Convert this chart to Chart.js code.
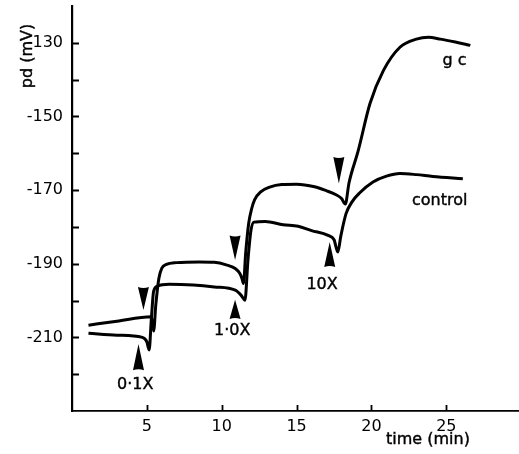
<!DOCTYPE html>
<html><head><meta charset="utf-8">
<script src="https://cdn.jsdelivr.net/npm/chart.js@4/dist/chart.umd.min.js"></script>
<style>html,body{margin:0;padding:0;background:#fff}canvas{display:block}</style>
</head><body>
<canvas id="c" width="519" height="454"></canvas>
<script>
// ---- data (time in min, pd in mV) ----
const gcTime = [1.1, 3.0, 5.3, 5.45, 5.6, 5.8, 6.0, 6.3, 7.0, 8.5, 9.5, 10.3, 10.9, 11.2, 11.35, 11.45, 11.6, 11.8, 12.0, 12.2, 12.6, 13.2, 14.0, 15.0, 16.2, 17.0, 17.6, 18.0, 18.25, 18.5, 19.1, 19.9, 20.8, 21.9, 23.0, 23.8, 24.6, 25.6, 26.6];
const gcPd = [-206.7, -205.6, -204.4, -208.3, -201, -194, -191.2, -190.2, -189.7, -189.5, -189.6, -190.3, -191.3, -192.6, -194, -195.4, -187, -179, -175, -172.6, -170.5, -169.2, -168.5, -168.4, -169.1, -170.2, -171.2, -172.3, -173.8, -168, -159.5, -146.5, -137.5, -131.2, -129, -128.5, -129, -129.8, -130.7];
const controlTime = [1.1, 3.0, 4.7, 5.0, 5.15, 5.3, 5.45, 5.7, 6.5, 8.1, 9.5, 10.9, 11.3, 11.55, 11.75, 11.95, 12.15, 12.9, 14.1, 15.1, 16.0, 17.1, 17.5, 17.75, 17.95, 18.3, 18.7, 19.2, 20.1, 21.0, 21.9, 23.0, 24.1, 26.1];
const controlPd = [-208.9, -209.4, -210, -211.2, -213.4, -205, -197.5, -196.1, -195.6, -195.8, -196.3, -197.2, -198.6, -199.9, -189, -181, -178.7, -178.5, -179.4, -179.8, -181, -182.3, -183.5, -186.8, -182.5, -176.4, -173.2, -170.8, -167.8, -166.2, -165.5, -165.8, -166.3, -166.9];

const xTicks = [5, 10, 15, 20, 25];
const yTicks = [-130, -150, -170, -190, -210];
const yMinorTicks = [-140, -160, -180, -200, -220];

// dose-addition arrowheads: tip and base positions (time, pd)
const doseLabels = ['0·1X', '1·0X', '10X'];
const downArrowTime = [4.77, 10.89, 17.82];
const downArrowTipPd = [-202.6, -189.0, -168.2];
const downArrowBasePd = [-196.3, -182.3, -161.0];
const upArrowTime = [4.44, 10.89, 17.21];
const upArrowTipPd = [-211.8, -199.8, -184.1];
const upArrowBasePd = [-218.9, -205.0, -190.9];
const doseLabelTime = [4.22, 10.7, 16.7];
const doseLabelPd = [-223.0, -208.2, -195.6];

const seriesNames = ['g c', 'control'];
const seriesLabelTime = [25.55, 24.55];
const seriesLabelPd = [-134.8, -172.8];

const xTitle = 'time (min)';
const yTitle = 'pd (mV)';

const FONT = '"DejaVu Sans", sans-serif';

function toPoints(xs, ys) { return xs.map((v, i) => ({x: v, y: ys[i]})); }

const overlay = {
  id: 'overlay',
  afterDatasetsDraw(chart) {
    const {ctx, scales: {x, y}, chartArea} = chart;
    ctx.save();
    ctx.strokeStyle = '#000';
    ctx.lineWidth = 1.8;
    ctx.beginPath();
    [...yTicks, ...yMinorTicks].forEach(v => {
      const py = Math.round(y.getPixelForValue(v)) + 0.5;
      ctx.moveTo(chartArea.left, py); ctx.lineTo(chartArea.left + 7, py);
    });
    xTicks.forEach(v => {
      const px = Math.round(x.getPixelForValue(v)) + 0.5;
      ctx.moveTo(px, chartArea.bottom); ctx.lineTo(px, chartArea.bottom - 6);
    });
    ctx.stroke();

    ctx.fillStyle = '#000';
    const W = 11;
    function tri(px, tipY, baseY) {
      const h = baseY - tipY;
      ctx.beginPath();
      ctx.moveTo(px, tipY);
      ctx.lineTo(px - W / 2, baseY);
      ctx.quadraticCurveTo(px, baseY - Math.sign(h) * 2, px + W / 2, baseY);
      ctx.closePath();
      ctx.fill();
    }
    downArrowTime.forEach((t, i) => tri(x.getPixelForValue(t), y.getPixelForValue(downArrowTipPd[i]), y.getPixelForValue(downArrowBasePd[i])));
    upArrowTime.forEach((t, i) => tri(x.getPixelForValue(t), y.getPixelForValue(upArrowTipPd[i]), y.getPixelForValue(upArrowBasePd[i])));

    ctx.font = '16px ' + FONT;
    ctx.textAlign = 'center';
    ctx.textBaseline = 'middle';
    ctx.lineWidth = 0.4;
    function txt(s, px, py) { ctx.fillText(s, px, py); ctx.strokeText(s, px, py); }
    doseLabels.forEach((s, i) => txt(s, x.getPixelForValue(doseLabelTime[i]), y.getPixelForValue(doseLabelPd[i])));
    seriesNames.forEach((s, i) => txt(s, x.getPixelForValue(seriesLabelTime[i]), y.getPixelForValue(seriesLabelPd[i])));

    txt(xTitle, 428, 440);
    ctx.translate(28, 56);
    ctx.rotate(-Math.PI / 2);
    txt(yTitle, 0, 0);
    ctx.restore();
  }
};

const lineStyle = {
  showLine: true, pointRadius: 0, borderColor: '#000', borderWidth: 3,
  cubicInterpolationMode: 'monotone', fill: false
};

new Chart(document.getElementById('c'), {
  type: 'scatter',
  data: {
    datasets: [
      Object.assign({label: 'gc', data: toPoints(gcTime, gcPd)}, lineStyle),
      Object.assign({label: 'control', data: toPoints(controlTime, controlPd)}, lineStyle)
    ]
  },
  options: {
    responsive: false,
    animation: false,
    devicePixelRatio: 1,
    layout: {padding: {top: 6, right: 0, left: 0, bottom: 0}},
    plugins: {legend: {display: false}, tooltip: {enabled: false}},
    scales: {
      x: {
        type: 'linear', position: 'bottom', min: 0, max: 29.85,
        grid: {display: false, drawTicks: false},
        border: {display: true, color: '#000', width: 1.8},
        ticks: {color: '#000', font: {family: FONT, size: 16}, padding: 6},
        afterBuildTicks: s => { s.ticks = xTicks.map(v => ({value: v})); },
        afterFit: s => { s.height = 43; s.paddingLeft = 0; s.paddingRight = 0; s.paddingTop = 0; s.paddingBottom = 0; }
      },
      y: {
        type: 'linear', position: 'left', min: -230, max: -120,
        grid: {display: false, drawTicks: false},
        border: {display: true, color: '#000', width: 2.2},
        ticks: {color: '#000', font: {family: FONT, size: 16}, padding: 9},
        afterBuildTicks: s => { s.ticks = yTicks.map(v => ({value: v})); },
        afterFit: s => { s.width = 72; s.paddingLeft = 0; s.paddingRight = 0; s.paddingTop = 0; s.paddingBottom = 0; }
      }
    }
  },
  plugins: [overlay]
});
</script>
</body></html>
